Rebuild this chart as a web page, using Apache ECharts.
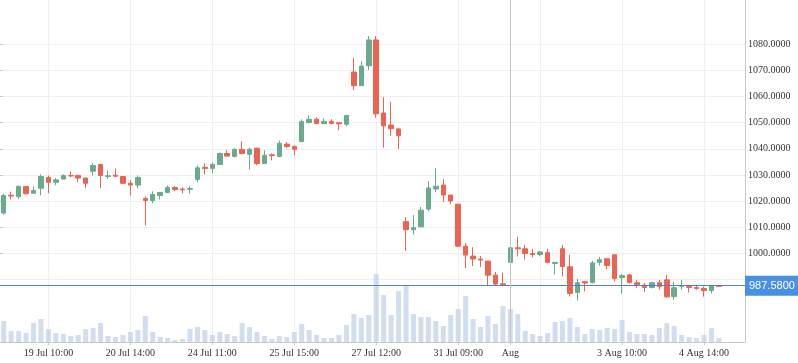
<!DOCTYPE html>
<html><head><meta charset="utf-8">
<script src="https://cdn.jsdelivr.net/npm/echarts@6/dist/echarts.min.js"></script>
<style>html,body{margin:0;padding:0;background:#fff}#c{width:798px;height:363px}</style>
</head><body><div id="c"></div>
<script>
const opens  = [1015.4,1022.2,1021.7,1025.6,1023.0,1024.9,1029.0,1027.2,1028.4,1029.8,
1029.8,1028.8,1031.4,1034.0,1029.4,1029.9,1029.4,1026.8,1026.1,1021.0,
1020.2,1022.1,1023.3,1025.2,1024.6,1024.5,1028.3,1032.9,1032.5,1034.0,
1038.2,1037.1,1039.8,1037.9,1040.2,1034.4,1037.7,1037.1,1041.8,1040.9,
1042.8,1050.1,1051.3,1049.7,1050.5,1050.0,1049.4,1069.4,1064.2,1071.8,
1081.7,1053.7,1049.1,1047.6,1012.1,1009.0,1010.1,1016.9,1024.6,1026.1,
1022.3,1018.8,1002.7,998.9,997.8,997.0,991.6,988.3,996.5,1002.1,
1001.7,999.9,999.5,1000.2,996.1,1001.7,994.8,985.0,989.1,988.8,
996.5,997.9,999.4,990.7,991.7,988.7,987.8,986.9,988.7,989.8,
983.4,987.3,987.3,986.9,986.5,985.7,987.6];
const closes = [1022.1,1021.9,1025.6,1022.8,1024.0,1029.4,1027.2,1028.1,1029.8,1029.6,
1028.8,1026.8,1033.6,1029.8,1029.7,1029.5,1026.8,1026.1,1029.0,1020.2,
1022.5,1023.3,1025.2,1024.4,1024.3,1024.8,1032.7,1032.5,1034.0,1038.2,
1037.2,1039.8,1038.2,1039.8,1034.4,1037.5,1037.4,1042.1,1040.9,1039.8,
1050.5,1051.3,1049.7,1050.5,1049.7,1049.6,1052.8,1064.2,1071.7,1081.7,
1053.4,1048.8,1047.7,1045.0,1009.0,1009.8,1016.5,1025.0,1025.7,1022.3,
1020.0,1002.7,999.3,997.8,997.4,991.6,988.2,987.9,1002.1,1001.7,
999.9,999.5,1000.5,996.5,996.5,994.9,984.6,988.7,988.6,996.3,
997.5,995.3,990.3,991.4,988.8,987.9,986.9,988.7,987.3,983.3,
986.8,987.6,986.9,986.5,985.7,987.6,987.3];
const lows   = [1014.8,1020.6,1020.7,1022.5,1022.9,1022.2,1023.0,1026.0,1028.3,1029.1,
1027.2,1024.9,1029.8,1024.9,1028.4,1029.1,1026.5,1022.1,1024.9,1010.6,
1019.1,1020.6,1022.9,1023.8,1022.9,1022.9,1027.2,1030.2,1030.6,1034.0,
1037.1,1036.7,1037.9,1032.1,1033.7,1034.4,1035.6,1036.7,1040.2,1037.5,
1042.8,1049.7,1049.4,1049.7,1049.4,1047.1,1048.6,1062.5,1064.2,1070.2,
1051.9,1040.4,1045.0,1040.0,1000.9,1007.1,1010.1,1016.1,1023.4,1019.6,
1018.8,1002.3,994.3,995.1,994.7,987.8,987.4,987.3,993.4,998.8,
997.6,998.4,998.8,996.1,991.9,991.1,983.4,981.9,985.4,988.4,
995.3,993.8,989.2,984.6,988.4,986.8,985.2,986.5,986.0,982.9,
982.2,986.1,985.0,986.0,983.4,984.6,987.3];
const highs  = [1022.8,1023.6,1026.0,1025.7,1025.6,1030.2,1029.8,1028.9,1030.2,1031.3,
1029.9,1028.9,1034.6,1034.0,1031.7,1032.5,1029.4,1027.9,1029.8,1021.7,
1023.7,1023.4,1026.0,1025.6,1025.2,1025.6,1033.6,1034.4,1034.8,1038.6,
1039.4,1040.2,1042.8,1040.5,1040.5,1039.4,1038.2,1043.2,1042.5,1041.3,
1051.3,1052.8,1052.0,1051.7,1051.3,1050.0,1052.8,1074.8,1073.6,1083.2,
1083.2,1059.8,1057.9,1048.1,1013.8,1014.6,1017.7,1027.6,1032.6,1028.4,
1022.3,1018.8,1003.9,1002.3,998.9,997.0,992.8,992.6,1002.1,1006.3,
1003.2,1001.7,1000.9,1001.7,996.5,1003.2,999.4,990.2,989.1,997.1,
998.6,998.2,999.4,992.1,992.1,989.8,988.7,989.1,989.8,991.7,
989.1,989.8,987.9,987.9,987.3,987.6,987.6];
const volumes = [21,11,11,9,19,23,13,9,8,6,
7,13,14,19,6,5,7,10,12,26,
10,5,4,2,3,13,15,12,7,10,
8,6,19,15,10,6,3,6,5,10,
18,12,7,4,4,7,17,28,24,27,
68,47,27,51,57,28,25,25,21,16,
27,33,46,23,15,26,18,36,33,28,
11,8,6,9,20,21,24,15,8,13,
12,14,13,22,10,8,8,7,14,19,
16,7,5,4,7,14,4];

const slotCount = 100;
const categories = Array.from({length: slotCount}, (_, i) => 'p' + i);
const tickIndex = [6,17,28,39,50,61,68,83,94];
const tickText = ['19 Jul 10:00','20 Jul 14:00','24 Jul 11:00','25 Jul 15:00','27 Jul 12:00','31 Jul 09:00','Aug','3 Aug 10:00','4 Aug 14:00'];
const gridLineIndex = [6,17,28,39,50,61,72,83,94];
const priceMin = 966, priceMax = 1097;
const labelMin = 990, labelMax = 1080, labelStep = 10;
const volumeMax = 342;
const crossIndex = 68;
const crossPrice = 987.58;

const candleData = opens.map((o, i) => [o, closes[i], lows[i], highs[i]]);
const halfSlots = Array.from({length: slotCount * 2}, (_, i) => 'h' + i);

const serif = 'Liberation Serif';
const chart = echarts.init(document.getElementById('c'), null, {renderer: 'canvas'});
// price-label grid spans labelMin..labelMax on the same scale as the price grid
const H = 342;
const pxPer = H / (priceMax - priceMin);
const gridBTop = (priceMax - labelMax) * pxPer;
const gridBBottom = 363 - (priceMax - labelMin) * pxPer;

chart.setOption({
  animation: false,
  backgroundColor: '#ffffff',
  grid: [
    {left: 0, right: 53, top: 0, bottom: 21},
    {left: 0, right: 53, top: gridBTop, bottom: gridBBottom},
    {left: 0, right: 53, top: 0, bottom: 21}
  ],
  xAxis: [
    {
      type: 'category', gridIndex: 0, data: categories, boundaryGap: true,
      axisLine: {show: true, lineStyle: {color: '#c8c8c8'}},
      axisTick: {show: true, alignWithLabel: true, length: 3, lineStyle: {color: '#c8c8c8'},
        interval: (idx) => tickIndex.includes(idx)},
      axisLabel: {show: true, margin: 6, color: '#333', fontSize: 10, fontFamily: serif,
        interval: (idx) => tickIndex.includes(idx),
        formatter: (v, idx) => { const k = tickIndex.indexOf(idx); return k >= 0 ? tickText[k] : ''; }},
      splitLine: {show: false}
    },
    {type: 'value', gridIndex: 1, show: false, min: 0, max: 1},
    {
      type: 'category', gridIndex: 2, data: halfSlots, boundaryGap: true,
      axisLine: {show: false}, axisTick: {show: false}, axisLabel: {show: false},
      splitLine: {show: true, lineStyle: {color: '#efefef', width: 1},
        interval: (idx) => idx % 2 === 1 && gridLineIndex.includes((idx - 1) / 2)}
    }
  ],
  yAxis: [
    {type: 'value', gridIndex: 0, position: 'right', min: priceMin, max: priceMax,
      axisLine: {show: true, lineStyle: {color: '#c8c8c8'}}, axisTick: {show: false},
      axisLabel: {show: false}, splitLine: {show: false}},
    {type: 'value', gridIndex: 0, position: 'left', min: 0, max: volumeMax, show: false},
    {type: 'value', gridIndex: 1, position: 'right', min: labelMin, max: labelMax, interval: labelStep,
      axisLine: {show: false},
      axisTick: {show: true, length: 3, lineStyle: {color: '#c8c8c8'}},
      axisLabel: {show: true, margin: 3, color: '#333', fontSize: 10, fontFamily: serif,
        showMinLabel: false, formatter: (v) => v.toFixed(4)},
      splitLine: {show: true, lineStyle: {color: '#efefef', width: 1}}},
    {type: 'value', gridIndex: 2, show: false, min: 0, max: 1}
  ],
  series: [
    {
      type: 'bar', name: 'Volume', xAxisIndex: 0, yAxisIndex: 1, data: volumes,
      barWidth: 5, z: 1, silent: true,
      itemStyle: {color: 'rgba(178,200,228,0.6)'}
    },
    {
      type: 'candlestick', name: 'Price', xAxisIndex: 0, yAxisIndex: 0, data: candleData,
      barWidth: 5, z: 3, clip: false,
      itemStyle: {color: '#6aab8e', color0: '#ec6352', borderColor: '#6aab8e', borderColor0: '#ec6352', borderWidth: 1},
      markLine: {
        silent: true, symbol: ['none', 'none'], animation: false,
        data: [
          {yAxis: crossPrice, lineStyle: {color: '#4a86cf', width: 1, type: 'solid'},
            label: {show: true, position: 'end', distance: 0, formatter: crossPrice.toFixed(4),
              backgroundColor: '#4a90e2', color: '#fff', padding: [5, 4, 4, 4], fontSize: 11,
              fontFamily: 'Liberation Sans'}},
          {xAxis: categories[crossIndex], lineStyle: {color: '#c4c4c4', width: 1, type: 'solid'},
            label: {show: false}}
        ]
      }
    }
  ]
});
</script></body></html>
